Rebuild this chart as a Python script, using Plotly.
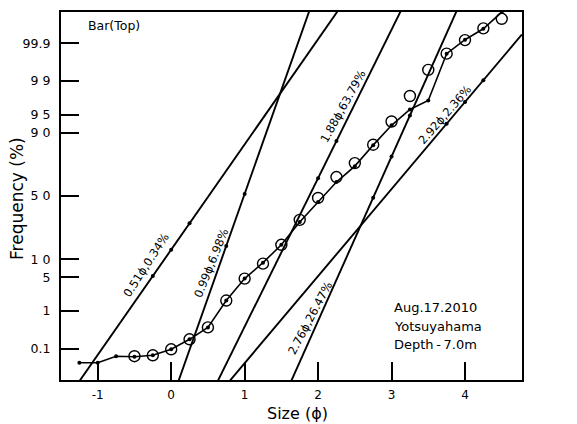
from statistics import NormalDist
import plotly.graph_objects as go

# ---- data -------------------------------------------------------------
# grain size (phi) of the sieve fractions
size_phi = [-0.5, -0.25, 0.0, 0.25, 0.5, 0.75, 1.0, 1.25, 1.5, 1.75, 2.0,
            2.25, 2.5, 2.75, 3.0, 3.25, 3.5, 3.75, 4.0, 4.25, 4.5]
# observed cumulative frequency (%)
cum_freq = [0.060, 0.064, 0.097, 0.188, 0.395, 1.73, 4.75, 8.57, 16.2, 31.5,
            48.4, 64.9, 74.7, 85.0, 93.4, 97.84, 99.46, 99.80, 99.919, 99.965,
            99.983]

# fitted composite curve (%)
curve_phi = [-1.25, -1.0, -0.75, -0.5, -0.25, 0.0, 0.25, 0.5, 0.75, 1.0, 1.25,
             1.5, 1.75, 2.0, 2.25, 2.5, 2.75, 3.0, 3.25, 3.5, 3.75, 4.0, 4.25,
             4.5]
curve_freq = [0.0376, 0.0376, 0.060, 0.058, 0.064, 0.097, 0.188, 0.395, 1.73,
              4.75, 8.88, 16.2, 30.0, 45.2, 61.1, 72.7, 84.8, 92.35, 95.99,
              97.33, 99.80, 99.921, 99.964, 99.990]

# log-normal sub-populations: mean (phi), sorting (phi), share (%)
pop_mean = [0.51, 0.99, 1.88, 2.76, 2.92]
pop_sigma = [0.47, 0.238, 0.333, 0.301, 0.568]
pop_share = ["0.34", "6.98", "63.79", "26.47", "2.36"]
pop_points = [[-0.25, 0.0, 0.25], [0.75, 1.0], [2.0, 2.25],
              [2.75, 3.0, 3.25], [3.75, 4.0, 4.25]]

y_ticks = [0.1, 1, 5, 10, 50, 90, 95, 99, 99.9]
y_tick_text = ["0.1", "1", "5", "1 0", "5 0", "9 0", "9 5", "9 9", "99.9"]
x_ticks = [-1, 0, 1, 2, 3, 4]
x_tick_text = ["-1", "0", "1", "2", "3", "4"]

# ---- probability scale ------------------------------------------------
nd = NormalDist()


def probit(pct):
    return nd.inv_cdf(pct / 100.0)


X_RANGE = [-1.5, 4.776]
Y_RANGE = [-3.72, 3.72]
FONT = "DejaVu Sans"
INK = "black"

fig = go.Figure()

# straight lines of the sub-populations with their sample dots
for mu, sd, pts in zip(pop_mean, pop_sigma, pop_points):
    xs = [X_RANGE[0], X_RANGE[1]]
    fig.add_trace(go.Scatter(
        x=xs, y=[(v - mu) / sd for v in xs], mode="lines",
        line=dict(color=INK, width=1.9), hoverinfo="skip", showlegend=False))
    fig.add_trace(go.Scatter(
        x=pts, y=[(v - mu) / sd for v in pts], mode="markers",
        marker=dict(color=INK, size=4), showlegend=False))

# composite curve
fig.add_trace(go.Scatter(
    x=curve_phi, y=[probit(v) for v in curve_freq], mode="lines+markers",
    line=dict(color=INK, width=1.6), marker=dict(color=INK, size=4),
    showlegend=False))

# observed data
fig.add_trace(go.Scatter(
    x=size_phi, y=[probit(v) for v in cum_freq], mode="markers",
    marker=dict(symbol="circle-open", size=11, color=INK,
                line=dict(color=INK, width=1.4)),
    showlegend=False))

# ---- text ---------------------------------------------------------------
label_pos = [(-0.343, -1.39, -57), (0.542, -1.348, -68), (2.346, 1.811, -61),
             (1.894, -2.471, -62), (3.721, 1.644, -49)]
for (lx, ly, ang), mu, share in zip(label_pos, pop_mean, pop_share):
    fig.add_annotation(
        x=lx, y=ly, xref="x", yref="y", text=f"{mu:.2f}ϕ,{share}%",
        textangle=ang, showarrow=False,
        font=dict(family=FONT, size=11.5, color=INK))

fig.add_annotation(x=0.054, y=0.962, xref="paper", yref="paper",
                   text="Bar(Top)", xanchor="left", yanchor="middle",
                   showarrow=False, font=dict(family=FONT, size=12.5, color=INK))

info_lines = ["Aug.17.2010", "Yotsuyahama", "Depth\u2009-\u20097.0m"]
for txt, py in zip(info_lines, [0.197, 0.146, 0.097]):
    fig.add_annotation(x=0.718, y=py, xref="paper", yref="paper", text=txt,
                       xanchor="left", yanchor="middle", showarrow=False,
                       font=dict(family=FONT, size=13, color=INK))

fig.add_annotation(x=-0.0954, y=0.492, xref="paper", yref="paper",
                   text="Frequency (%)", textangle=-90, showarrow=False,
                   xanchor="center", yanchor="middle",
                   font=dict(family=FONT, size=17, color=INK))
fig.add_annotation(x=0.514, y=-0.090, xref="paper", yref="paper",
                   text="Size (ϕ)", showarrow=False,
                   xanchor="center", yanchor="middle",
                   font=dict(family=FONT, size=16, color=INK))

# ---- axes -----------------------------------------------------------------
axis_common = dict(showgrid=False, zeroline=False, showline=True,
                   linecolor=INK, linewidth=2.2, mirror=True,
                   ticks="inside", ticklen=18, tickwidth=2, tickcolor=INK)

fig.update_xaxes(range=X_RANGE, tickvals=x_ticks, ticktext=x_tick_text,
                 ticklabelstandoff=2,
                 tickfont=dict(family=FONT, size=12, color=INK),
                 **axis_common)
fig.update_yaxes(range=Y_RANGE, tickvals=[probit(v) for v in y_ticks],
                 ticktext=y_tick_text, ticklabelstandoff=6,
                 tickfont=dict(family=FONT, size=12.5, color=INK),
                 **axis_common)

fig.update_layout(
    width=577, height=424,
    margin=dict(l=61, r=55, t=10, b=44),
    paper_bgcolor="white", plot_bgcolor="white",
    showlegend=False,
)

fig.write_html("out.html")
